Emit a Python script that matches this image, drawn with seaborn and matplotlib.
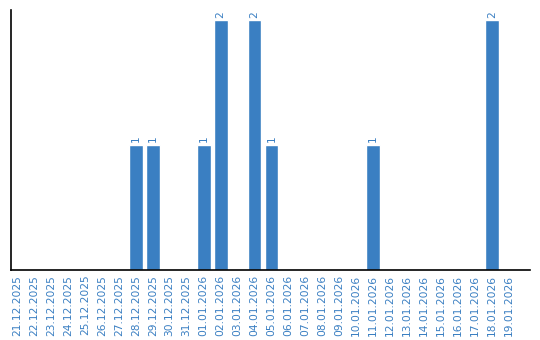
import matplotlib
matplotlib.use("Agg")
import matplotlib.pyplot as plt
import seaborn as sns
import pandas as pd

dates = ["21.12.2025", "22.12.2025", "23.12.2025", "24.12.2025", "25.12.2025",
         "26.12.2025", "27.12.2025", "28.12.2025", "29.12.2025", "30.12.2025",
         "31.12.2025", "01.01.2026", "02.01.2026", "03.01.2026", "04.01.2026",
         "05.01.2026", "06.01.2026", "07.01.2026", "08.01.2026", "09.01.2026",
         "10.01.2026", "11.01.2026", "12.01.2026", "13.01.2026", "14.01.2026",
         "15.01.2026", "16.01.2026", "17.01.2026", "18.01.2026", "19.01.2026"]
counts = [0, 0, 0, 0, 0, 0, 0, 1, 1, 0,
          0, 1, 2, 0, 2, 1, 0, 0, 0, 0,
          0, 1, 0, 0, 0, 0, 0, 0, 2, 0]

df = pd.DataFrame({"date": dates, "count": counts})
blue = "#3a7fc2"

sns.set_style("white")
fig = plt.figure(figsize=(5.4, 3.4), dpi=100)
ax = fig.add_axes([11/540, 1 - 270/340, 519/540, 260/340])
sns.barplot(data=df, x="date", y="count", color=blue, saturation=1,
            width=0.82, ax=ax)
ax.set_ylim(0, 2.08)
ax.set_xlim(-0.354, 30.24)
ax.set_xlabel("")
ax.set_ylabel("")
ax.set_yticks([])
ax.tick_params(axis="x", length=0, pad=3.5, labelsize=7.7, labelcolor=blue,
               rotation=90)
for s in ["top", "right"]:
    ax.spines[s].set_visible(False)
for s in ["left", "bottom"]:
    ax.spines[s].set_color("black")
    ax.spines[s].set_linewidth(1.2)
for i, v in enumerate(counts):
    if v > 0:
        ax.text(i, v + 0.02, str(v), rotation=90, ha="center", va="bottom",
                fontsize=7.7, color=blue)
fig.savefig("out.png", dpi=100)
